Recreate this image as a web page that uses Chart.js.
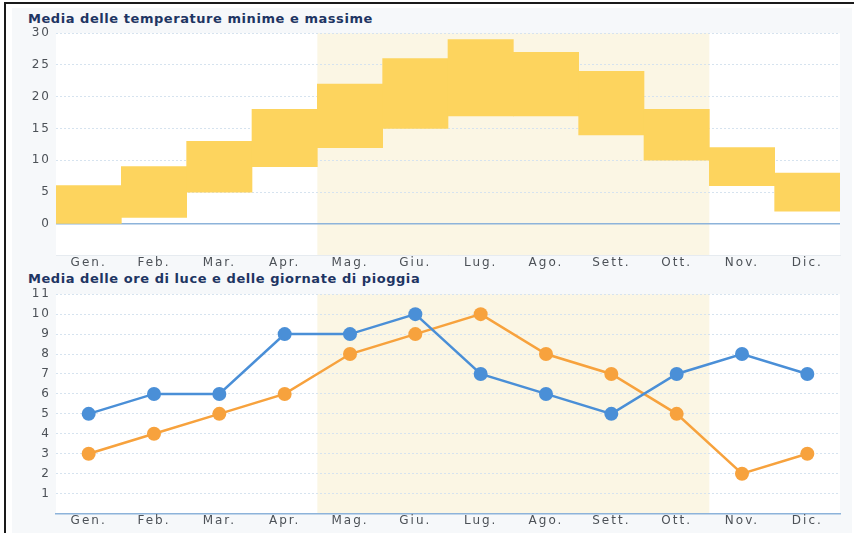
<!DOCTYPE html>
<html>
<head>
<meta charset="utf-8">
<script src="https://cdn.jsdelivr.net/npm/chart.js@4"></script>
<style>
	body { margin: 0; width: 854px; height: 533px; background: #fff; position: relative; overflow: hidden; font-family: "DejaVu Sans", sans-serif; }
	#frame { position: absolute; left: 4px; top: 2px; width: 850px; height: 531px; border-left: 2px solid #1a1a1a; border-top: 2px solid #1a1a1a; }
	#panel { position: absolute; left: 12px; top: 8px; width: 840px; height: 525px; background: #f6f8fa; }
	.title { position: absolute; left: 28px; font-weight: bold; font-size: 13px; color: #1e3563; letter-spacing: 0.55px; }
	.box { position: absolute; left: 12px; width: 840px; }
</style>
</head>
<body>
<div id="frame"></div>
<div id="panel"></div>
<div class="title" style="top:11px;">Media delle temperature minime e massime</div>
<div class="box" style="top:21px;height:249px;"><canvas id="tempChart"></canvas></div>
<div class="title" style="top:271px;">Media delle ore di luce e delle giornate di pioggia</div>
<div class="box" style="top:282px;height:246px;"><canvas id="lightChart"></canvas></div>
<script>
// months
var months = ['Gen.', 'Feb.', 'Mar.', 'Apr.', 'Mag.', 'Giu.', 'Lug.', 'Ago.', 'Sett.', 'Ott.', 'Nov.', 'Dic.'];

// temperature (min / max)
var tempMin = [0, 1, 5, 9, 12, 15, 17, 17, 14, 10, 6, 2];
var tempMax = [6, 9, 13, 18, 22, 26, 29, 27, 24, 18, 12, 8];

// hours of light and rainy days
var lightHours = [5, 6, 6, 9, 9, 10, 7, 6, 5, 7, 8, 7];
var rainDays = [3, 4, 5, 6, 8, 9, 10, 8, 7, 5, 2, 3];

// summer season shaded band (first and last month index)
var seasonFrom = 4;
var seasonTo = 9;

var tickFont = { family: 'DejaVu Sans', size: 12 };
var tickColor = '#4c5157';
var gridColor = '#d6e3ef';
var axisBlue = '#8db3da';

// draws white plot area + shaded season band under grid
var bandPlugin = {
	id: 'band',
	beforeDraw: function(chart) {
		const ctx = chart.ctx;
		const area = chart.chartArea;
		const x = chart.scales.x;
		ctx.save();
		ctx.fillStyle = '#ffffff';
		ctx.fillRect(area.left, area.top, area.right - area.left, area.bottom - area.top);
		let x0 = x.getPixelForValue(seasonFrom - 0.5);
		let x1 = x.getPixelForValue(seasonTo + 0.5);
		ctx.fillStyle = '#fbf6e4';
		ctx.fillRect(x0, area.top, x1 - x0, area.bottom - area.top);
		ctx.restore();
		// wider labels, like the original
		ctx.letterSpacing = '2px';
	}
};

// solid blue line at zero for the temperature chart
var zeroLinePlugin = {
	id: 'zeroLine',
	beforeDatasetsDraw: function(chart) {
		const ctx = chart.ctx;
		const area = chart.chartArea;
		let y0 = chart.scales.y.getPixelForValue(0);
		ctx.save();
		ctx.strokeStyle = axisBlue;
		ctx.lineWidth = 1.5;
		ctx.beginPath();
		ctx.moveTo(area.left, y0);
		ctx.lineTo(area.right, y0);
		ctx.stroke();
		ctx.restore();
	}
};

function fixWidth(scale) { scale.width = 44; }

var tempRanges = [];
for(let i = 0; i < months.length; i++)
	tempRanges.push([tempMin[i], tempMax[i]]);

new Chart(document.getElementById('tempChart'), {
	type: 'bar',
	data: {
		labels: months,
		datasets: [{
			label: 'Temperature',
			data: tempRanges,
			backgroundColor: '#fdd45e',
			borderWidth: 0,
			barPercentage: 1.0,
			categoryPercentage: 1.0
		}]
	},
	options: {
		responsive: true,
		maintainAspectRatio: false,
		animation: false,
		layout: { padding: { left: 0, right: 12, top: 0, bottom: 0 } },
		plugins: { legend: { display: false }, tooltip: { enabled: false } },
		scales: {
			x: {
				grid: { display: false, drawTicks: false },
				border: { color: '#e6ebf0' },
				ticks: { font: tickFont, color: tickColor, padding: 0 }
			},
			y: {
				min: -5,
				max: 30,
				afterFit: fixWidth,
				ticks: {
					stepSize: 5,
					font: tickFont,
					color: tickColor,
					padding: 5,
					callback: function(v) { return v < 0 ? '' : v; }
				},
				grid: {
					drawTicks: false,
					color: function(c) { return c.tick && c.tick.value === 0 ? 'rgba(0,0,0,0)' : gridColor; }
				},
				border: { display: false, dash: [2, 2] }
			}
		}
	},
	plugins: [bandPlugin, zeroLinePlugin]
});

new Chart(document.getElementById('lightChart'), {
	type: 'line',
	data: {
		labels: months,
		datasets: [{
			label: 'Ore di luce',
			data: lightHours,
			borderColor: '#4a8fd7',
			backgroundColor: '#4a8fd7',
			borderWidth: 2.5,
			pointRadius: 7,
			pointBorderWidth: 0,
			tension: 0
		}, {
			label: 'Giornate di pioggia',
			data: rainDays,
			borderColor: '#f7a23d',
			backgroundColor: '#f7a23d',
			borderWidth: 2.5,
			pointRadius: 7,
			pointBorderWidth: 0,
			tension: 0
		}]
	},
	options: {
		responsive: true,
		maintainAspectRatio: false,
		animation: false,
		layout: { padding: { left: 0, right: 12, top: 0, bottom: 0 } },
		plugins: { legend: { display: false }, tooltip: { enabled: false } },
		scales: {
			x: {
				offset: true,
				grid: { display: false, drawTicks: false },
				border: { color: axisBlue, width: 1.5 },
				ticks: { font: tickFont, color: tickColor, padding: 0 }
			},
			y: {
				min: 0,
				max: 11,
				afterFit: fixWidth,
				ticks: {
					stepSize: 1,
					font: tickFont,
					color: tickColor,
					padding: 5,
					callback: function(v) { return v === 0 ? '' : v; }
				},
				grid: { drawTicks: false, color: gridColor },
				border: { display: false, dash: [2, 2] }
			}
		}
	},
	plugins: [bandPlugin]
});
</script>
</body>
</html>
